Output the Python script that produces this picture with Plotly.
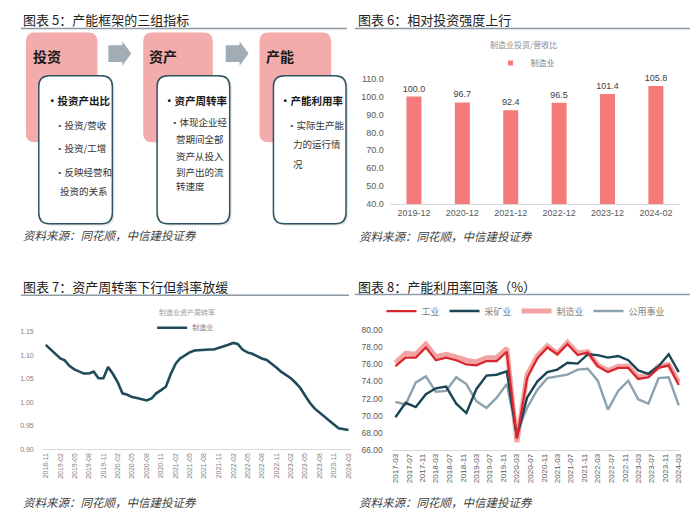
import pandas as pd
import plotly.graph_objects as go

W, H = 700, 525
def px(x): return x / W
def py(y): return 1 - y / H

CJK = "Noto Sans CJK SC, sans-serif"
NUM = "Liberation Sans, Noto Sans CJK SC, sans-serif"

# ---------------- Chart 6 data: 制造业投资/营收比
ratio_periods = ["2019-12", "2020-12", "2021-12", "2022-12", "2023-12", "2024-02"]
ratio_values = [100.0, 96.7, 92.4, 96.5, 101.4, 105.8]

# ---------------- Chart 7 data: 制造业资产周转率 (monthly, 2018-11 .. 2024-02)
turnover_months = [p.strftime("%Y-%m") for p in pd.period_range("2018-11", "2024-02", freq="M")]
turnover_values = [1.122, 1.112, 1.103, 1.093, 1.089, 1.077, 1.070, 1.065, 1.061, 1.061,
                   1.065, 1.051, 1.051, 1.075, 1.060, 1.042, 1.019, 1.016, 1.011, 1.009,
                   1.006, 1.004, 1.008, 1.019, 1.026, 1.033, 1.060, 1.082, 1.093, 1.100,
                   1.106, 1.110, 1.111, 1.112, 1.112, 1.112, 1.115, 1.118, 1.122, 1.126,
                   1.124, 1.112, 1.106, 1.103, 1.098, 1.093, 1.090, 1.083, 1.074, 1.065,
                   1.058, 1.051, 1.042, 1.031, 1.015, 0.999, 0.987, 0.978, 0.969, 0.961,
                   0.953, 0.945, 0.943, 0.941]
turnover_ticks = turnover_months[::3]

# ---------------- Chart 8 data: 产能利用率 (quarterly, 2017-03 .. 2024-03)
util_quarters = [f"{y}-{m:02d}" for y in range(2017, 2025) for m in (3, 6, 9, 12)][:29]
util_industry = [75.8, 76.8, 76.8, 78.0, 76.5, 76.8, 76.5, 76.0, 75.9, 76.4, 76.4, 77.5,
                 67.3, 74.4, 76.7, 78.0, 77.2, 78.4, 77.1, 77.4, 75.8, 75.1, 75.6, 75.6,
                 74.3, 74.5, 75.6, 75.9, 73.6]
util_mining = [69.8, 71.5, 71.0, 72.5, 73.2, 73.4, 71.4, 70.3, 73.1, 74.7, 74.8, 75.2,
               67.5, 72.1, 74.0, 75.1, 75.4, 76.2, 76.1, 77.2, 77.1, 76.8, 77.0, 76.5,
               75.3, 74.9, 75.8, 77.2, 75.1]
util_manuf = [76.2, 77.3, 77.2, 78.4, 76.9, 77.2, 76.9, 76.5, 76.3, 76.8, 76.8, 77.9,
              66.9, 74.8, 77.0, 78.2, 77.3, 78.6, 77.35, 77.5, 75.9, 75.3, 75.8, 75.8,
              74.5, 74.7, 75.8, 76.0, 73.9]
util_utility = [71.6, 71.3, 73.9, 74.6, 72.8, 72.9, 74.5, 73.7, 71.7, 70.9, 72.1, 73.7,
                67.9, 70.9, 73.0, 74.4, 74.6, 74.8, 75.4, 75.5, 74.1, 70.7, 72.9, 74.1,
                71.9, 71.4, 74.4, 74.5, 71.2]
util_ticks = [f"{y}-{m:02d}" for y in range(2017, 2025) for m in (3, 7, 11)][:22]

fig = go.Figure()

# ---- Chart 6 bars
fig.add_trace(go.Bar(
    x=ratio_periods, y=ratio_values, name="制造业", width=0.31,
    marker=dict(color="#F57A7A", line=dict(width=0)),
    texttemplate="%{y:.1f}", textposition="outside", cliponaxis=False,
    constraintext="none",
    textfont=dict(size=9, color="#404040", family=NUM),
    xaxis="x", yaxis="y", showlegend=False))
# legend entry for chart 6 (small square key, as in the source legend)
fig.add_trace(go.Scatter(
    x=[None], y=[None], mode="markers", name="制造业",
    marker=dict(symbol="square", size=5, color="#F57A7A"),
    xaxis="x", yaxis="y", legend="legend", showlegend=True))

# ---- Chart 7 line
fig.add_trace(go.Scatter(
    x=turnover_months, y=turnover_values, mode="lines", name="制造业",
    line=dict(color="#1F4B5A", width=2.6), xaxis="x2", yaxis="y2",
    legend="legend2", showlegend=True))

# ---- Chart 8 lines
fig.add_trace(go.Scatter(x=util_quarters, y=util_manuf, mode="lines", name="制造业",
                         line=dict(color="#F4A3A3", width=5), xaxis="x3", yaxis="y3",
                         legend="legend3", legendrank=3))
fig.add_trace(go.Scatter(x=util_quarters, y=util_utility, mode="lines", name="公用事业",
                         line=dict(color="#8CA2AE", width=2.4), xaxis="x3", yaxis="y3",
                         legend="legend3", legendrank=4))
fig.add_trace(go.Scatter(x=util_quarters, y=util_mining, mode="lines", name="采矿业",
                         line=dict(color="#1B4454", width=2.4), xaxis="x3", yaxis="y3",
                         legend="legend3", legendrank=2))
fig.add_trace(go.Scatter(x=util_quarters, y=util_industry, mode="lines", name="工业",
                         line=dict(color="#D7262D", width=2.2), xaxis="x3", yaxis="y3",
                         legend="legend3", legendrank=1))

axcol = "#D9D9D9"
tickcol = "#595959"
fig.update_layout(
    width=W, height=H, margin=dict(l=0, r=0, t=0, b=0),
    paper_bgcolor="white", plot_bgcolor="rgba(0,0,0,0)",
    font=dict(family=CJK, color="#333"),
    xaxis=dict(domain=[px(391), px(683)], anchor="y", type="category",
               showline=True, linecolor=axcol, linewidth=1, ticks="", showgrid=False,
               tickfont=dict(size=9, color=tickcol, family=NUM), fixedrange=True),
    yaxis=dict(domain=[py(203), py(75)], anchor="x", range=[40, 110], dtick=10,
               tickformat=".1f", showgrid=False, zeroline=False, showline=False,
               ticklabelstandoff=5,
               tickfont=dict(size=9, color=tickcol, family=NUM), fixedrange=True),
    xaxis2=dict(domain=[px(42), px(352)], anchor="y2", type="date",
                range=["2018-10-13", "2024-02-17"], tickvals=turnover_ticks,
                ticktext=turnover_ticks, tickangle=-90, showline=True, linecolor=axcol,
                ticks="", showgrid=False,
                tickfont=dict(size=7, color="#7F7F7F", family=NUM), fixedrange=True),
    yaxis2=dict(domain=[py(453), py(333)], anchor="x2", range=[0.90, 1.15], dtick=0.05,
                tickformat=".2f", showgrid=False, zeroline=False, showline=False,
                ticklabelstandoff=8,
                tickfont=dict(size=7, color="#7F7F7F", family=NUM), fixedrange=True),
    xaxis3=dict(domain=[px(393), px(683)], anchor="y3", type="date",
                range=["2017-01-27", "2024-03-13"], tickvals=util_ticks,
                ticktext=util_ticks, tickangle=-90, showline=True, linecolor=axcol,
                ticks="", showgrid=False,
                tickfont=dict(size=8, color=tickcol, family=NUM), fixedrange=True),
    yaxis3=dict(domain=[py(453.3), py(331.7)], anchor="x3", range=[66, 80], dtick=2,
                tickformat=".2f", showgrid=False, zeroline=False, showline=False,
                ticklabelstandoff=8,
                tickfont=dict(size=8.5, color=tickcol, family=NUM), fixedrange=True),
    legend=dict(x=px(527), y=py(59), xanchor="center", yanchor="middle",
                orientation="h", bgcolor="rgba(0,0,0,0)",
                font=dict(size=8, color="#7F7F7F", family=CJK), itemwidth=30),
    legend2=dict(x=px(152), y=py(329), xanchor="left", yanchor="middle",
                 orientation="h", bgcolor="rgba(0,0,0,0)",
                 font=dict(size=7, color="#7F7F7F", family=CJK), itemwidth=30),
    legend3=dict(x=px(528), y=py(312), xanchor="center", yanchor="middle",
                 orientation="h", bgcolor="rgba(0,0,0,0)", traceorder="normal",
                 font=dict(size=9, color="#7F7F7F", family=CJK), itemwidth=30),
)

shapes = []
annots = []

def rrect(x0, y0, x1, y1, r):
    pts = [("M", x0 + r, y0), ("L", x1 - r, y0), ("Q", x1, y0, x1, y0 + r),
           ("L", x1, y1 - r), ("Q", x1, y1, x1 - r, y1), ("L", x0 + r, y1),
           ("Q", x0, y1, x0, y1 - r), ("L", x0, y0 + r), ("Q", x0, y0, x0 + r, y0)]
    s = ""
    for p in pts:
        cmd = p[0]
        coords = p[1:]
        parts = []
        for i in range(0, len(coords), 2):
            parts.append(f"{px(coords[i]):.5f},{py(coords[i+1]):.5f}")
        s += cmd + " " + " ".join(parts) + " "
    return s + "Z"

def poly(points):
    return "M " + " L ".join(f"{px(x):.5f},{py(y):.5f}" for x, y in points) + " Z"

# Title underlines
for x0, x1, y in [(20, 348, 24), (356, 693, 24), (20, 350, 296), (356, 693, 295)]:
    shapes.append(dict(type="line", xref="paper", yref="paper", x0=px(x0), x1=px(x1),
                       y0=py(y), y1=py(y), line=dict(color="#8E9BA5", width=1.5)))

# Panel 5 diagram
pink = "#F4ABAB"
for x0, x1 in [(25, 97), (143, 213), (260, 332)]:
    shapes.append(dict(type="path", xref="paper", yref="paper", path=rrect(x0, 28, x1, 140, 9),
                       fillcolor=pink, line=dict(width=0)))
for x0, x1 in [(38, 112), (157, 230), (274, 347)]:
    shapes.append(dict(type="path", xref="paper", yref="paper", path=rrect(x0 + 2, 74, x1 + 2, 225, 11),
                       fillcolor="rgba(0,0,0,0.10)", line=dict(width=0)))
    shapes.append(dict(type="path", xref="paper", yref="paper", path=rrect(x0, 72, x1, 223, 11),
                       fillcolor="white", line=dict(color="#2E5461", width=1.5)))
for a in [108, 226]:
    shapes.append(dict(type="path", xref="paper", yref="paper",
                       path=poly([(a, 41), (a + 14, 41), (a + 14, 37), (a + 23, 49.5),
                                  (a + 14, 62), (a + 14, 58), (a, 58)]),
                       fillcolor="#A1ACB4", line=dict(width=0)))

def txt(x, y, s, size, color="#222", bold=False, xanchor="left", italic=False, family=CJK):
    annots.append(dict(x=px(x), y=py(y), xref="paper", yref="paper", text=s, showarrow=False,
                       xanchor=xanchor, yanchor="middle",
                       font=dict(size=size, color=color, family=family,
                                 weight="bold" if bold else "normal",
                                 style="italic" if italic else "normal")))

# Titles
txt(20, 15, "图表 5：产能框架的三组指标", 13, "#222")
txt(357, 15, "图表 6：相对投资强度上行", 13, "#222")
txt(20, 287, "图表 7：资产周转率下行但斜率放缓", 13, "#222")
txt(357, 287, "图表 8：产能利用率回落（%）", 13, "#222")
# Sources
for x, y in [(20, 234), (358, 235), (20, 507), (358, 507)]:
    txt(x, y, "资料来源：同花顺，中信建投证券", 11.5, "#404040", italic=True)

# Diagram texts
txt(30, 52, "投资", 14, "#1a1a1a", bold=True)
txt(147, 52, "资产", 14, "#1a1a1a", bold=True)
txt(265, 52, "产能", 14, "#1a1a1a", bold=True)
txt(44, 97, "•投资产出比", 10.5, "#1a1a1a", bold=True)
txt(162, 97, "•资产周转率", 10.5, "#1a1a1a", bold=True)
txt(279, 97, "•产能利用率", 10.5, "#1a1a1a", bold=True)
for y, s in [(122, "•投资/营收"), (146, "•投资/工增"), (170, "•反映经营和")]:
    txt(52, y, s, 9.5, "#333")
txt(57, 190, "投资的关系", 9.5, "#333")
txt(168, 119, "•体现企业经", 9.5, "#333")
for y, s in [(137, "营期间全部"), (154, "资产从投入"), (170, "到产出的流"), (185, "转速度")]:
    txt(174, y, s, 9.5, "#333")
txt(286, 122, "•实际生产能", 9.5, "#333")
txt(292, 142, "力的运行情", 9.5, "#333")
txt(292, 162, "况", 9.5, "#333")

# Chart subtitles
txt(525, 40, "制造业投资/营收比", 8, "#8C8C8C", xanchor="center")
txt(187, 313, "制造业资产周转率", 7, "#9A9A9A", xanchor="center")

fig.update_layout(shapes=shapes, annotations=annots)
fig.write_html("out.html")
